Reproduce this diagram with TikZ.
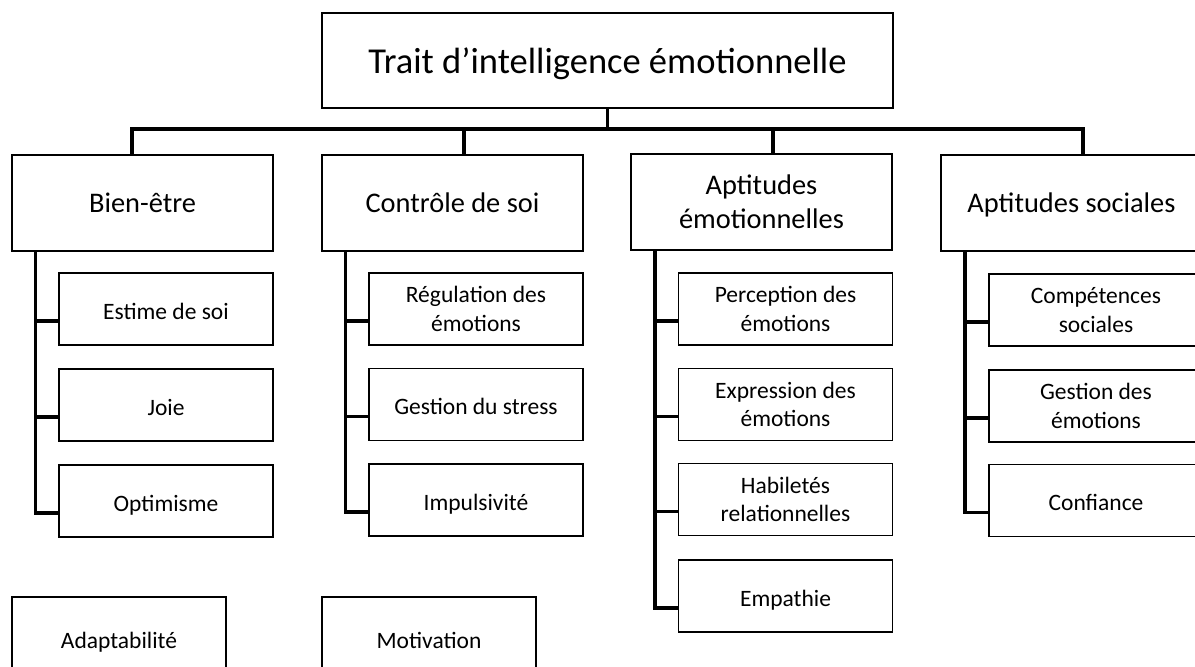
\documentclass[tikz,border=0pt]{standalone}
\usepackage{fontspec}
\setmainfont{Carlito}
\usetikzlibrary{calc}
\begin{document}
\begin{tikzpicture}[x=0.5pt, y=-0.5pt, line join=miter]
	\tikzset{
		box/.style={draw, rectangle, inner sep=0pt, outer sep=0pt, align=center},
		one/.style={text height=#1, text depth=0pt},
		rootbox/.style={box, one=12.8pt, line width=1.4pt, minimum width=285.5pt, minimum height=47.5pt, font=\fontsize{18.25}{22}\selectfont},
		mainbox/.style={box, line width=1pt, minimum width=130.5pt, minimum height=48pt, font=\fontsize{14.2}{17}\selectfont},
		subbox/.style={box, line width=0.85pt, minimum width=107pt, minimum height=36pt, font=\fontsize{11.75}{14.1}\selectfont},
		freebox/.style={subbox, one=10pt, minimum height=41pt},
		link/.style={line width=1.6pt}
	}
	\useasboundingbox (0,0) rectangle (1195,666);
	\clip (0,0) rectangle (1195,666);
	% top
	\node[rootbox] (root) at (607.5,60.5) {Trait d’intelligence émotionnelle};
	% main groups
	\node[mainbox, one=9.6pt] (bien) at (142.5,203) {Bien-être};
	\node[mainbox, one=9.6pt] (ctrl) at (452.5,203) {Contrôle de soi};
	\node[mainbox] (apte) at (761.5,202) {Aptitudes\\émotionnelles};
	\node[mainbox, one=9.6pt] (apts) at (1071.5,203) {Aptitudes sociales};
	% sub items
	\node[subbox, one=10pt] (b1) at (166,309) {Estime de soi};
	\node[subbox, one=10pt] (b2) at (166,405) {Joie};
	\node[subbox, one=10pt] (b3) at (166,501) {Optimisme};
	\node[subbox] (c1) at (476,309) {Régulation des\\émotions};
	\node[subbox, one=10pt] (c2) at (476,404.5) {Gestion du stress};
	\node[subbox, one=10pt] (c3) at (476,500) {Impulsivité};
	\node[subbox] (e1) at (785.5,309) {Perception des\\émotions};
	\node[subbox] (e2) at (785.5,404.5) {Expression des\\émotions};
	\node[subbox] (e3) at (785.5,499.5) {Habiletés\\relationnelles};
	\node[subbox, one=10pt] (e4) at (785.5,596) {Empathie};
	\node[subbox] (s1) at (1096,310) {Compétences\\sociales};
	\node[subbox] (s2) at (1096,406) {Gestion des\\émotions};
	\node[subbox, one=10pt] (s3) at (1096,500.5) {Confiance};
	% loose boxes
	\node[freebox] (adapt) at (119,638) {Adaptabilité};
	\node[freebox] (motiv) at (429,638) {Motivation};
	% tree connectors
	\coordinate (bar) at (0,129);
	\coordinate (d1) at ($(bien.north)+(-10.5,0)$);
	\coordinate (d2) at ($(ctrl.north)+(11.5,0)$);
	\coordinate (d3) at ($(apte.north)+(11.5,0)$);
	\coordinate (d4) at ($(apts.north)+(11.5,0)$);
	\draw[link] (root.south) -- (root.south |- bar);
	\draw[link] (d1) |- (bar -| d4) -- (d4);
	\draw[link] (d2) -- (d2 |- bar);
	\draw[link] (d3) -- (d3 |- bar);
	\foreach \s in {b1,b2,b3} \draw[link] ($(bien.south west)+(23.5,0)$) |- ($(\s.west)+(0,12)$);
	\foreach \s in {c1,c2,c3} \draw[link] ($(ctrl.south west)+(23.5,0)$) |- ($(\s.west)+(0,12)$);
	\foreach \s in {e1,e2,e3,e4} \draw[link] ($(apte.south west)+(24,0)$) |- ($(\s.west)+(0,12)$);
	\foreach \s in {s1,s2,s3} \draw[link] ($(apts.south west)+(24,0)$) |- ($(\s.west)+(0,12)$);
\end{tikzpicture}
\end{document}
